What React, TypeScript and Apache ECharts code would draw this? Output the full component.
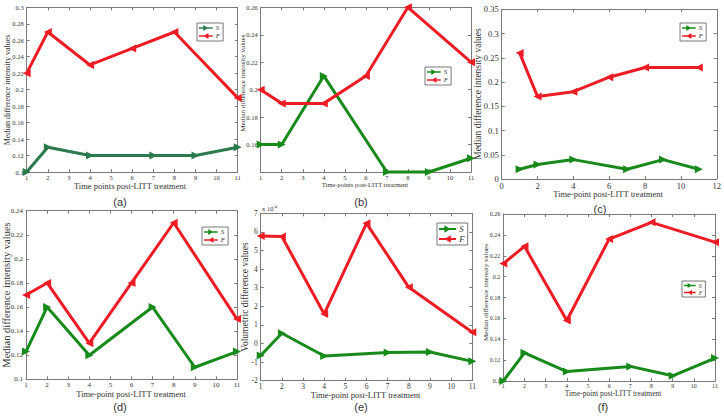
import React, { useEffect, useRef } from "react";
import * as echarts from "echarts";

// time points (x) of each curve
const X_S = [1, 2, 4, 7, 9, 11];
const X_F = [1, 2, 4, 6, 8, 11];

// panel (a)
const S_A = [0.1, 0.13, 0.12, 0.12, 0.12, 0.13];
const F_A = [0.22, 0.27, 0.23, 0.25, 0.27, 0.19];
// panel (b)
const S_B = [0.16, 0.16, 0.21, 0.14, 0.14, 0.15];
const F_B = [0.2, 0.19, 0.19, 0.21, 0.26, 0.22];
// panel (c)
const S_C = [0.02, 0.03, 0.04, 0.02, 0.04, 0.02];
const F_C = [0.26, 0.17, 0.18, 0.21, 0.23, 0.23];
// panel (d)
const S_D = [0.123, 0.16, 0.12, 0.16, 0.11, 0.123];
const F_D = [0.17, 0.18, 0.13, 0.18, 0.23, 0.15];
// panel (e) (values x 10^-4)
const S_E = [-0.65, 0.55, -0.67, -0.49, -0.46, -0.96];
const F_E = [5.78, 5.75, 1.59, 6.46, 3.02, 0.6];
// panel (f)
const S_F = [0.1, 0.127, 0.109, 0.114, 0.105, 0.122];
const F_F = [0.2125, 0.229, 0.158, 0.236, 0.252, 0.233];

const SERIES_S = [S_A, S_B, S_C, S_D, S_E, S_F];
const SERIES_F = [F_A, F_B, F_C, F_D, F_E, F_F];

const PANEL_TAGS = ["(a)", "(b)", "(c)", "(d)", "(e)", "(f)"];
const X_TITLES = [
  "Time points post-LITT treatment",
  "Time-points post-LITT treatment",
  "Time-point post-LITT treatment",
  "Time-point post-LITT treatment",
  "Time-point post-LITT treatment",
  "Time-point post-LITT treatment",
];
const Y_TITLES = [
  "Median difference intensity values",
  "Median difference intensity values",
  "Median difference intensity values",
  "Median difference intensity values",
  "Volumetric difference values",
  "Median difference intensity values",
];
const LEGEND_NAMES = ["S", "F"];
const SUFFIX = ["a", "b", "c", "d", "e", "f"];

// axis ranges [min, max, interval]
const X_RANGES = [
  [1, 11, 1],
  [1, 11, 1],
  [0, 12, 2],
  [1, 11, 1],
  [1, 11, 1],
  [1, 11, 1],
];
const Y_RANGES = [
  [0.1, 0.3, 0.02],
  [0.14, 0.26, 0.02],
  [0, 0.35, 0.05],
  [0.1, 0.24, 0.02],
  [-2, 7, 1],
  [0.1, 0.26, 0.02],
];

// layout (styles)
const GRIDS = [
  [26.7, 7.3, 211, 164.7],
  [260.7, 7.3, 210.3, 164.7],
  [501.7, 9.3, 215.6, 169.7],
  [26, 210.7, 211, 168.6],
  [260.7, 213.3, 211.6, 167.4],
  [503.3, 214, 211.7, 167],
];
const TICK_FONT = [6.5, 6.5, 8.5, 7, 7.5, 6];
const LEGEND_POS = [
  [197, 23],
  [425, 67],
  [680, 23],
  [202, 227],
  [437, 223],
  [682, 281],
];
const LEGEND_SCALE = [1, 1, 1, 1, 1.25, 0.85];
const YT_POS = [
  [7, 90, 8],
  [242.7, 83, 7],
  [478, 94, 9.5],
  [6, 295, 10.5],
  [245, 297, 9.5],
  [486, 292.5, 7],
];
const XT_POS = [
  [130, 185.5, 8.5],
  [365, 184.5, 6.5],
  [608, 194.2, 8.5],
  [131, 393.8, 8.5],
  [365.5, 395.2, 8.5],
  [613, 393.8, 7.5],
];
const TAG_POS = [
  [120, 202],
  [361, 202],
  [600, 209],
  [120, 407],
  [361, 407],
  [603, 407],
];

const GREENS = ["#2b7a4e", "#178a1a", "#178a1a", "#178a1a", "#178a1a", "#178a1a"];
const RED = "#ec1c24";
const SERIF = "Liberation Serif";
const AXIS_COLOR = "#7a7a7a";
const TEXT_COLOR = "#333333";

const TRI_R = "path://M0,0 L10,5 L0,10 Z";
const TRI_L = "path://M10,0 L0,5 L10,10 Z";
const ICON_S = "path://M0,3 L5,3 L5,0.5 L9.3,3 L16,3 L16,5 L9.3,5 L5,7.5 L5,5 L0,5 Z";
const ICON_F = "path://M16,3 L11,3 L11,0.5 L6.7,3 L0,3 L0,5 L6.7,5 L11,7.5 L11,5 L16,5 Z";

function buildOption() {
  const grid: any[] = [];
  const xAxis: any[] = [];
  const yAxis: any[] = [];
  const series: any[] = [];
  const legend: any[] = [];
  const graphic: any[] = [];

  for (let i = 0; i < 6; i++) {
    const [l, t, w, h] = GRIDS[i];
    grid.push({ left: l, top: t, width: w, height: h, containLabel: false });
  }
  const lineStyle = { color: AXIS_COLOR, width: 1 };
  // bottom / left axes with labels
  for (let i = 0; i < 6; i++) {
    const [xmin, xmax, xint] = X_RANGES[i];
    const [ymin, ymax, yint] = Y_RANGES[i];
    xAxis.push({
      type: "value",
      gridIndex: i,
      position: "bottom",
      min: xmin,
      max: xmax,
      interval: xint,
      axisLine: { show: true, onZero: false, lineStyle },
      axisTick: { show: true, inside: true, length: 3, lineStyle },
      splitLine: { show: false },
      axisLabel: {
        fontFamily: SERIF,
        fontSize: TICK_FONT[i],
        color: TEXT_COLOR,
        margin: 2,
        showMinLabel: true,
        showMaxLabel: true,
      },
    });
    yAxis.push({
      type: "value",
      gridIndex: i,
      position: "left",
      min: ymin,
      max: ymax,
      interval: yint,
      axisLine: { show: true, onZero: false, lineStyle },
      axisTick: { show: true, inside: true, length: 3, lineStyle },
      splitLine: { show: false },
      axisLabel: {
        fontFamily: SERIF,
        fontSize: TICK_FONT[i],
        color: TEXT_COLOR,
        margin: 3,
        showMinLabel: true,
        showMaxLabel: true,
        formatter:
          i === 1
            ? (v: number) => (v < 0.145 ? "" : String(Math.round(v * 100) / 100))
            : undefined,
      },
    });
  }
  // top / right mirror axes (box ticks)
  for (let i = 0; i < 6; i++) {
    const [xmin, xmax, xint] = X_RANGES[i];
    const [ymin, ymax, yint] = Y_RANGES[i];
    xAxis.push({
      type: "value",
      gridIndex: i,
      position: "top",
      min: xmin,
      max: xmax,
      interval: xint,
      axisLine: { show: true, onZero: false, lineStyle },
      axisTick: { show: true, inside: true, length: 3, lineStyle },
      splitLine: { show: false },
      axisLabel: { show: false },
    });
    yAxis.push({
      type: "value",
      gridIndex: i,
      position: "right",
      min: ymin,
      max: ymax,
      interval: yint,
      axisLine: { show: true, onZero: false, lineStyle },
      axisTick: { show: true, inside: true, length: 3, lineStyle },
      splitLine: { show: false },
      axisLabel: { show: false },
    });
  }

  for (let i = 0; i < 6; i++) {
    const sName = LEGEND_NAMES[0] + "_" + SUFFIX[i];
    const fName = LEGEND_NAMES[1] + "_" + SUFFIX[i];
    const sc = LEGEND_SCALE[i];
    series.push({
      type: "line",
      name: sName,
      xAxisIndex: i,
      yAxisIndex: i,
      data: X_S.map((x, k) => [x, SERIES_S[i][k]]),
      symbol: TRI_R,
      symbolSize: 8,
      lineStyle: { color: GREENS[i], width: 3 },
      itemStyle: { color: GREENS[i] },
      clip: false,
    });
    series.push({
      type: "line",
      name: fName,
      xAxisIndex: i,
      yAxisIndex: i,
      data: X_F.map((x, k) => [x, SERIES_F[i][k]]),
      symbol: TRI_L,
      symbolSize: 8,
      lineStyle: { color: RED, width: 3 },
      itemStyle: { color: RED },
      clip: false,
    });
    legend.push({
      left: LEGEND_POS[i][0],
      top: LEGEND_POS[i][1],
      orient: "vertical",
      data: [
        { name: sName, icon: ICON_S },
        { name: fName, icon: ICON_F },
      ],
      formatter: (n: string) => n.split("_")[0],
      itemWidth: 14 * sc,
      itemHeight: 6 * sc,
      itemGap: 1,
      padding: [1.5, 3, 1.5, 2],
      backgroundColor: "#ffffff",
      borderColor: "#555555",
      borderWidth: 0.8,
      borderRadius: 0,
      selectedMode: false,
      textStyle: {
        fontFamily: SERIF,
        fontStyle: "italic",
        fontSize: 7 * sc,
        lineHeight: 7 * sc,
        color: TEXT_COLOR,
        padding: [0, 0, 0, -2],
      },
    });

    graphic.push({
      type: "text",
      x: YT_POS[i][0],
      y: YT_POS[i][1],
      rotation: Math.PI / 2,
      style: {
        text: Y_TITLES[i],
        fontFamily: SERIF,
        fontSize: YT_POS[i][2],
        fill: TEXT_COLOR,
        align: "center",
        verticalAlign: "middle",
      },
    });
    graphic.push({
      type: "text",
      x: XT_POS[i][0],
      y: XT_POS[i][1],
      style: {
        text: X_TITLES[i],
        fontFamily: SERIF,
        fontSize: XT_POS[i][2],
        fill: TEXT_COLOR,
        align: "center",
        verticalAlign: "middle",
      },
    });
    graphic.push({
      type: "text",
      x: TAG_POS[i][0],
      y: TAG_POS[i][1],
      style: {
        text: PANEL_TAGS[i],
        fontFamily: "Liberation Sans",
        fontSize: 11,
        fill: TEXT_COLOR,
        align: "center",
        verticalAlign: "middle",
      },
    });
  }
  graphic.push({
    type: "text",
    x: 262,
    y: 208.5,
    style: {
      text: "x 10{sup|-4}",
      fontFamily: SERIF,
      fontSize: 6.5,
      fill: TEXT_COLOR,
      verticalAlign: "middle",
      rich: {
        sup: { fontFamily: SERIF, fontSize: 4.5, fill: TEXT_COLOR, verticalAlign: "bottom", padding: [0, 0, 5, 0] },
      },
    },
  });

  return {
    animation: false,
    backgroundColor: "#ffffff",
    grid,
    xAxis,
    yAxis,
    series,
    legend,
    graphic,
  };
}

export default function App() {
  const ref = useRef<HTMLDivElement>(null);
  useEffect(() => {
    if (!ref.current) return;
    const chart = echarts.init(ref.current, undefined, { renderer: "svg" });
    chart.setOption(buildOption() as any);
    return () => chart.dispose();
  }, []);
  return (
    <div
      ref={ref}
      style={{ position: "fixed", left: 0, top: 0, width: 724, height: 420 }}
    />
  );
}
